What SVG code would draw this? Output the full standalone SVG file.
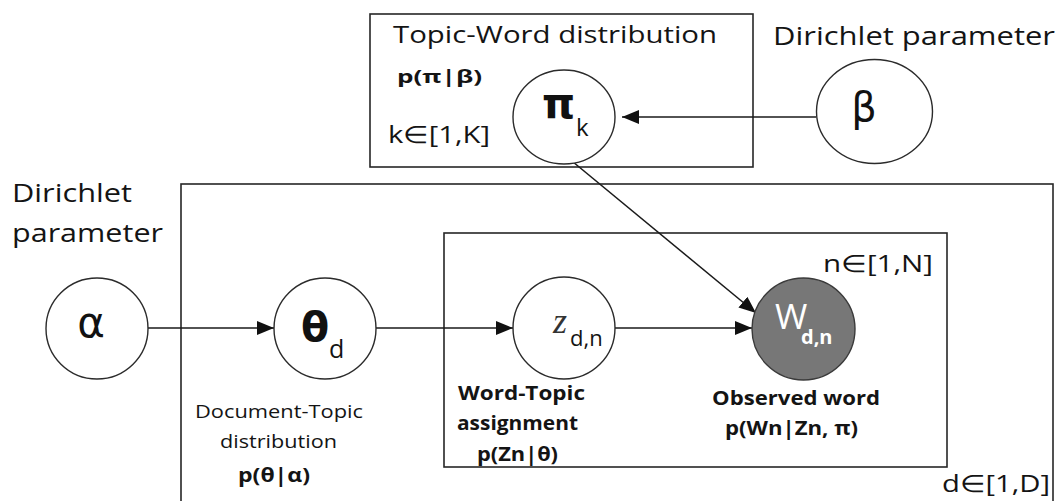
<svg xmlns="http://www.w3.org/2000/svg" width="1059" height="501" viewBox="0 0 1059 501">
  <style>
    .plate { fill: none; stroke: #262626; stroke-width: 1.6; }
    .node { fill: #ffffff; stroke: #2b2b2b; stroke-width: 1.4; }
    .obs { fill: #777777; stroke: #3a3a3a; stroke-width: 1.4; }
    .edge { fill: none; stroke: #1a1a1a; stroke-width: 1.5; marker-end: url(#arrow); }
    .txt { font-family: "Open Sans", "Noto Sans", sans-serif; fill: #141414; }
    .b { font-weight: bold; }
    .sym { font-family: "DejaVu Sans", "Noto Sans", sans-serif; fill: #111; }
  </style>
  <defs>
    <marker id="arrow" markerUnits="userSpaceOnUse" markerWidth="18" markerHeight="14" refX="17" refY="7" orient="auto">
      <path d="M0,0 L17,7 L0,14 z" fill="#111"/>
    </marker>
  </defs>

  <!-- plates -->
  <g id="plate-topics">
    <rect class="plate" x="370" y="14" width="383" height="153"/>
    <text class="txt" x="393" y="43" font-size="24" textLength="324" lengthAdjust="spacingAndGlyphs">Topic-Word distribution</text>
    <text class="txt b" x="397" y="83" font-size="18" textLength="85" lengthAdjust="spacingAndGlyphs">p(π|β)</text>
    <text class="txt" x="388" y="143" font-size="24" textLength="102" lengthAdjust="spacingAndGlyphs">k∈[1,K]</text>
  </g>
  <g id="plate-documents">
    <rect class="plate" x="181" y="184" width="872" height="330"/>
    <text class="txt" x="942" y="492" font-size="24" textLength="108" lengthAdjust="spacingAndGlyphs">d∈[1,D]</text>
  </g>
  <g id="plate-words">
    <rect class="plate" x="444" y="233" width="503" height="234"/>
    <text class="txt" x="823" y="272" font-size="24" textLength="110" lengthAdjust="spacingAndGlyphs">n∈[1,N]</text>
  </g>

  <!-- connectors -->
  <g id="edges">
    <line class="edge" x1="816" y1="117" x2="622" y2="117"/>
    <line class="edge" x1="148" y1="328" x2="274" y2="328"/>
    <line class="edge" x1="376" y1="328" x2="513" y2="328"/>
    <line class="edge" x1="615" y1="328" x2="752" y2="328"/>
    <line class="edge" x1="567" y1="157" x2="756" y2="313"/>
  </g>

  <!-- nodes -->
  <g id="node-beta">
    <ellipse class="node" cx="874.5" cy="111.5" rx="58" ry="52"/>
    <text class="txt" x="773" y="45" font-size="25" textLength="282" lengthAdjust="spacingAndGlyphs">Dirichlet parameter</text>
    <text class="sym" x="864" y="121" font-size="40" text-anchor="middle">β</text>
  </g>
  <g id="node-pi">
    <ellipse class="node" cx="564" cy="117" rx="51" ry="47"/>
    <text class="sym b" x="542" y="118" font-size="42">π</text>
    <text class="txt" x="576" y="136" font-size="24">k</text>
  </g>
  <g id="node-alpha">
    <ellipse class="node" cx="97" cy="328.5" rx="51" ry="50.5"/>
    <text class="txt" x="12" y="202" font-size="26" textLength="120" lengthAdjust="spacingAndGlyphs">Dirichlet</text>
    <text class="txt" x="12" y="242" font-size="26" textLength="151" lengthAdjust="spacingAndGlyphs">parameter</text>
    <text class="sym" x="91" y="337" font-size="42" text-anchor="middle">α</text>
  </g>
  <g id="node-theta">
    <ellipse class="node" cx="325" cy="328.5" rx="51" ry="50.5"/>
    <text class="sym b" x="301" y="341" font-size="41">θ</text>
    <text class="txt" x="329" y="358" font-size="25">d</text>
    <text class="txt" x="279" y="418" font-size="19" text-anchor="middle" textLength="168" lengthAdjust="spacingAndGlyphs">Document-Topic</text>
    <text class="txt" x="278.5" y="448" font-size="19" text-anchor="middle" textLength="117" lengthAdjust="spacingAndGlyphs">distribution</text>
    <text class="txt b" x="274" y="482" font-size="19" text-anchor="middle" textLength="72" lengthAdjust="spacingAndGlyphs">p(θ|α)</text>
  </g>
  <g id="node-z">
    <ellipse class="node" cx="564" cy="328" rx="51" ry="51"/>
    <text x="553" y="333" font-family="Liberation Serif, serif" font-style="italic" font-size="36" fill="#333">z</text>
    <text class="txt" x="570" y="346" font-size="22">d,n</text>
    <text class="txt b" x="521.5" y="400" font-size="19" text-anchor="middle" textLength="127" lengthAdjust="spacingAndGlyphs">Word-Topic</text>
    <text class="txt b" x="517.5" y="430" font-size="19" text-anchor="middle" textLength="121" lengthAdjust="spacingAndGlyphs">assignment</text>
    <text class="txt b" x="517.5" y="461" font-size="19" text-anchor="middle" textLength="81" lengthAdjust="spacingAndGlyphs">p(Zn|θ)</text>
  </g>
  <g id="node-w">
    <ellipse class="obs" cx="803.5" cy="329" rx="51.5" ry="51"/>
    <text x="775" y="329" font-family="Open Sans, Noto Sans, sans-serif" font-size="35" fill="#ffffff">W</text>
    <text x="801" y="344" font-family="Open Sans, Noto Sans, sans-serif" font-weight="bold" font-size="20" fill="#ffffff">d,n</text>
    <text class="txt b" x="796" y="405" font-size="19" text-anchor="middle" textLength="168" lengthAdjust="spacingAndGlyphs">Observed word</text>
    <text class="txt b" x="791.5" y="435" font-size="19" text-anchor="middle" textLength="133" lengthAdjust="spacingAndGlyphs">p(Wn|Zn, π)</text>
  </g>
</svg>
